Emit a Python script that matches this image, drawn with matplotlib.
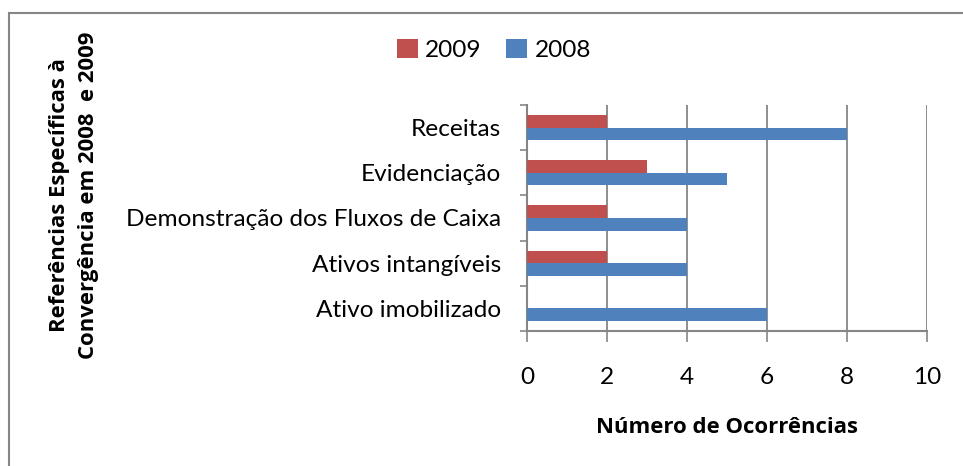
import numpy as np
import matplotlib.pyplot as plt
from matplotlib.patches import Rectangle

categorias = ['Ativo imobilizado', 'Ativos intangíveis',
              'Demonstração dos Fluxos de Caixa', 'Evidenciação', 'Receitas']
ocorrencias_2009 = [0, 2, 2, 3, 2]
ocorrencias_2008 = [6, 4, 4, 5, 8]

plt.rcParams['font.family'] = ['Lato', 'DejaVu Sans']

fig = plt.figure(figsize=(9.63, 4.66), dpi=100)
ax = fig.add_axes([527 / 963, 1 - 331 / 466, 400 / 963, 226 / 466])

# moldura externa do gráfico
fig.patches.append(Rectangle((9 / 963, -0.1), 1.2, 1 - 13 / 466 + 0.1,
                             transform=fig.transFigure, fill=False,
                             edgecolor='#868686', linewidth=1.5))

y = np.arange(len(categorias))
h = 0.28
ax.barh(y - h / 2, ocorrencias_2008, height=h, color='#4F81BD', label='2008', zorder=3)
ax.barh(y + h / 2, ocorrencias_2009, height=h, color='#C0504D', label='2009', zorder=3)

ax.set_xlim(0, 10)
ax.set_ylim(-0.5, len(categorias) - 0.5)
ax.set_xticks([0, 2, 4, 6, 8, 10])
ax.set_yticks(y)
ax.set_yticklabels(categorias)
ax.set_yticks(np.arange(-0.5, len(categorias)), minor=True)
ax.tick_params(axis='y', which='major', length=0, pad=26 * 0.72, labelsize=17.6)
ax.tick_params(axis='y', which='minor', length=5, width=1.2, color='#868686')
ax.tick_params(axis='x', length=8, width=1.2, color='#868686', pad=18, labelsize=17.6)

ax.grid(axis='x', color='#868686', linewidth=1.3, zorder=0)
for s in ['top', 'right']:
    ax.spines[s].set_visible(False)
for s in ['left', 'bottom']:
    ax.spines[s].set_color('#868686')
    ax.spines[s].set_linewidth(1.5)

bold = dict(family=['Open Sans', 'DejaVu Sans'], fontweight='bold', fontsize=15.9)
ax.set_xlabel('Número de Ocorrências', labelpad=21, **bold)
fig.text(74 / 963, 1 - 195 / 466,
         'Referências Específicas à\nConvergência em 2008  e 2009',
         rotation=90, ha='center', va='center', linespacing=1.45, **bold)

handles, labels = ax.get_legend_handles_labels()
fig.legend(handles[::-1], labels[::-1], loc='center', bbox_to_anchor=(494 / 963, 1 - 50 / 466),
           ncol=2, frameon=False, fontsize=17.6, handlelength=0.85, handleheight=0.85,
           handletextpad=0.3, columnspacing=1.0)

fig.savefig('out.png', dpi=100)
